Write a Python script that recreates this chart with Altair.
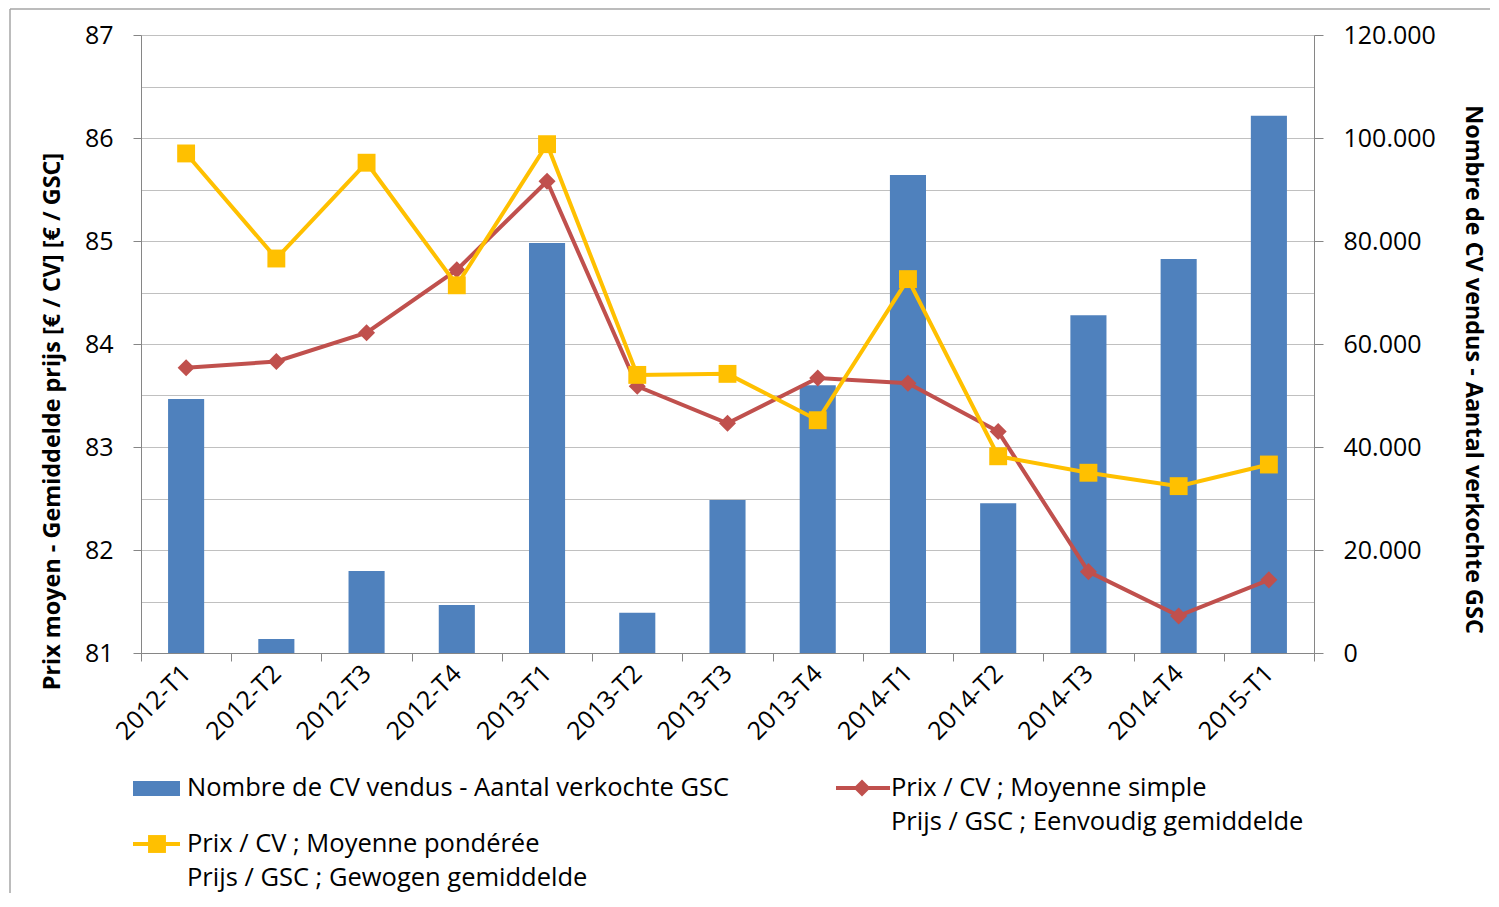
import altair as alt
import pandas as pd

# ---- data ----
periods = ["2012-T1", "2012-T2", "2012-T3", "2012-T4", "2013-T1", "2013-T2", "2013-T3",
           "2013-T4", "2014-T1", "2014-T2", "2014-T3", "2014-T4", "2015-T1"]
volumes = [49300, 2700, 15900, 9300, 79600, 7800, 29700, 52000, 92800, 29100, 65600, 76500, 104300]
price_simple = [83.77, 83.83, 84.11, 84.72, 85.58, 83.59, 83.23, 83.67, 83.62, 83.15, 81.79, 81.36, 81.71]
price_weighted = [85.85, 84.83, 85.76, 84.57, 85.94, 83.70, 83.71, 83.26, 84.63, 82.91, 82.75, 82.62, 82.83]

left_values = [81, 81.5, 82, 82.5, 83, 83.5, 84, 84.5, 85, 85.5, 86, 86.5, 87]
right_values = [0, 20000, 40000, 60000, 80000, 100000, 120000]

left_title = "Prix moyen  - Gemiddelde prijs [€ / CV] [€ / GSC]"
right_title = "Nombre de CV vendus - Aantal verkochte GSC"
legend_bar = "Nombre de CV vendus - Aantal verkochte GSC"
legend_simple = ["Prix / CV ; Moyenne simple", "Prijs / GSC ; Eenvoudig gemiddelde"]
legend_weighted = ["Prix / CV ; Moyenne pondérée", "Prijs / GSC ; Gewogen gemiddelde"]

BLUE = "#4F81BD"
RED = "#C0504D"
YELLOW = "#FFC000"
GRID = "#C0C0C0"
AXIS = "#868686"
FONT = "Open Sans"
FS = 25         # tick labels
FS_LEG = 25.5   # legend
FS_TITLE = 23.4 # bold axis titles

df = pd.DataFrame({
    "period": periods,
    "volume": volumes,
    "simple": price_simple,
    "weighted": price_weighted,
})

W, H = 1173, 618

x_enc = alt.X(
    "period:N", sort=periods,
    scale=alt.Scale(paddingInner=0, paddingOuter=0),
    axis=alt.Axis(title=None, labelAngle=-45, labelAlign="right", labelBaseline="middle",
                  tickBand="extent", tickSize=8, tickColor=AXIS, domainColor=AXIS,
                  labelFont=FONT, labelFontSize=FS, labelColor="black", labelPadding=8,
                  grid=False),
)

left_axis = alt.Axis(
    orient="left", values=left_values,
    labelExpr="datum.value % 1 === 0 ? format(datum.value, 'd') : ''",
    grid=True, gridColor=GRID, gridWidth=1.2,
    tickOpacity={"condition": {"test": "datum.value % 1 === 0", "value": 1}, "value": 0},
    tickSize=8, tickColor=AXIS, domainColor=AXIS,
    labelFont=FONT, labelFontSize=FS, labelColor="black", labelPadding=20,
    title=left_title, titleFont=FONT, titleFontSize=FS_TITLE, titleFontWeight="bold",
    titleColor="black", titleAngle=270, titleAlign="center", titleBaseline="middle",
    titleX=-89, titleY=386,
)
left_scale = alt.Scale(domain=[81, 87], nice=False, zero=False)

bars = alt.Chart(df).mark_bar(color=BLUE, width=alt.RelativeBandSize(0.4)).encode(
    x=x_enc,
    y=alt.Y("volume:Q", scale=alt.Scale(domain=[0, 120000], nice=False),
            axis=alt.Axis(orient="right", values=right_values,
                          labelExpr="replace(format(datum.value, ','), ',', '.')",
                          grid=False, tickSize=9, tickColor=AXIS, domainColor=AXIS,
                          labelFont=FONT, labelFontSize=FS, labelColor="black", labelPadding=20,
                          title=right_title, titleFont=FONT, titleFontSize=FS_TITLE,
                          titleFontWeight="bold", titleColor="black", titleAngle=90,
                          titleAlign="center", titleBaseline="middle",
                          titleX=158, titleY=334)),
)

red = alt.Chart(df).mark_line(
    color=RED, strokeWidth=4,
    point=alt.OverlayMarkDef(shape="diamond", size=290, filled=True, color=RED, opacity=1),
).encode(x=x_enc, y=alt.Y("simple:Q", scale=left_scale, axis=left_axis))

yellow = alt.Chart(df).mark_line(
    color=YELLOW, strokeWidth=4,
    point=alt.OverlayMarkDef(shape="square", size=320, filled=True, color=YELLOW, opacity=1),
).encode(x=x_enc, y=alt.Y("weighted:Q", scale=left_scale, axis=left_axis))

prices = alt.layer(red, yellow)

one = pd.DataFrame({"k": [0]})

# ---- manual legend (positions relative to plot origin) ----
leg_rect = alt.Chart(one).mark_rect(color=BLUE).encode(
    x=alt.value(-8), x2=alt.value(39), y=alt.value(746), y2=alt.value(761))
leg_text1 = alt.Chart(one).mark_text(align="left", baseline="middle", font=FONT, fontSize=FS_LEG,
                                     color="black").encode(
    x=alt.value(46), y=alt.value(753), text=alt.value(legend_bar))

leg_red_line = alt.Chart(one).mark_rule(color=RED, strokeWidth=4).encode(
    x=alt.value(695), x2=alt.value(749), y=alt.value(753))
leg_red_pt = alt.Chart(one).mark_point(shape="diamond", size=290, filled=True, color=RED,
                                       opacity=1).encode(x=alt.value(721), y=alt.value(753))
leg_text2 = alt.Chart(one).mark_text(align="left", baseline="middle", font=FONT, fontSize=FS_LEG,
                                     color="black", lineHeight=34).encode(
    x=alt.value(750), y=alt.value(753), text=alt.value(legend_simple))

leg_y_line = alt.Chart(one).mark_rule(color=YELLOW, strokeWidth=4).encode(
    x=alt.value(-8), x2=alt.value(39), y=alt.value(809))
leg_y_pt = alt.Chart(one).mark_point(shape="square", size=320, filled=True, color=YELLOW,
                                     opacity=1).encode(x=alt.value(16), y=alt.value(809))
leg_text3 = alt.Chart(one).mark_text(align="left", baseline="middle", font=FONT, fontSize=FS_LEG,
                                     color="black", lineHeight=34).encode(
    x=alt.value(46), y=alt.value(809), text=alt.value(legend_weighted))

# ---- outer frame ----
frame_left = alt.Chart(one).mark_rule(color="#A6A6A6", strokeWidth=1.5).encode(
    x=alt.value(-131), y=alt.value(-26), y2=alt.value(860))
frame_top = alt.Chart(one).mark_rule(color="#A6A6A6", strokeWidth=1.5).encode(
    x=alt.value(-131), x2=alt.value(1350), y=alt.value(-26))

chart = alt.layer(
    bars, prices,
    leg_rect, leg_text1, leg_red_line, leg_red_pt, leg_text2,
    leg_y_line, leg_y_pt, leg_text3, frame_left, frame_top,
).resolve_scale(y="independent").properties(
    width=W, height=H,
    autosize=alt.AutoSizeParams(type="none"),
    padding={"left": 133, "top": 27, "right": 176, "bottom": 240},
).configure_view(strokeWidth=0).configure(background="white")

chart.save("out.html", embed_options={"renderer": "svg", "actions": False})
